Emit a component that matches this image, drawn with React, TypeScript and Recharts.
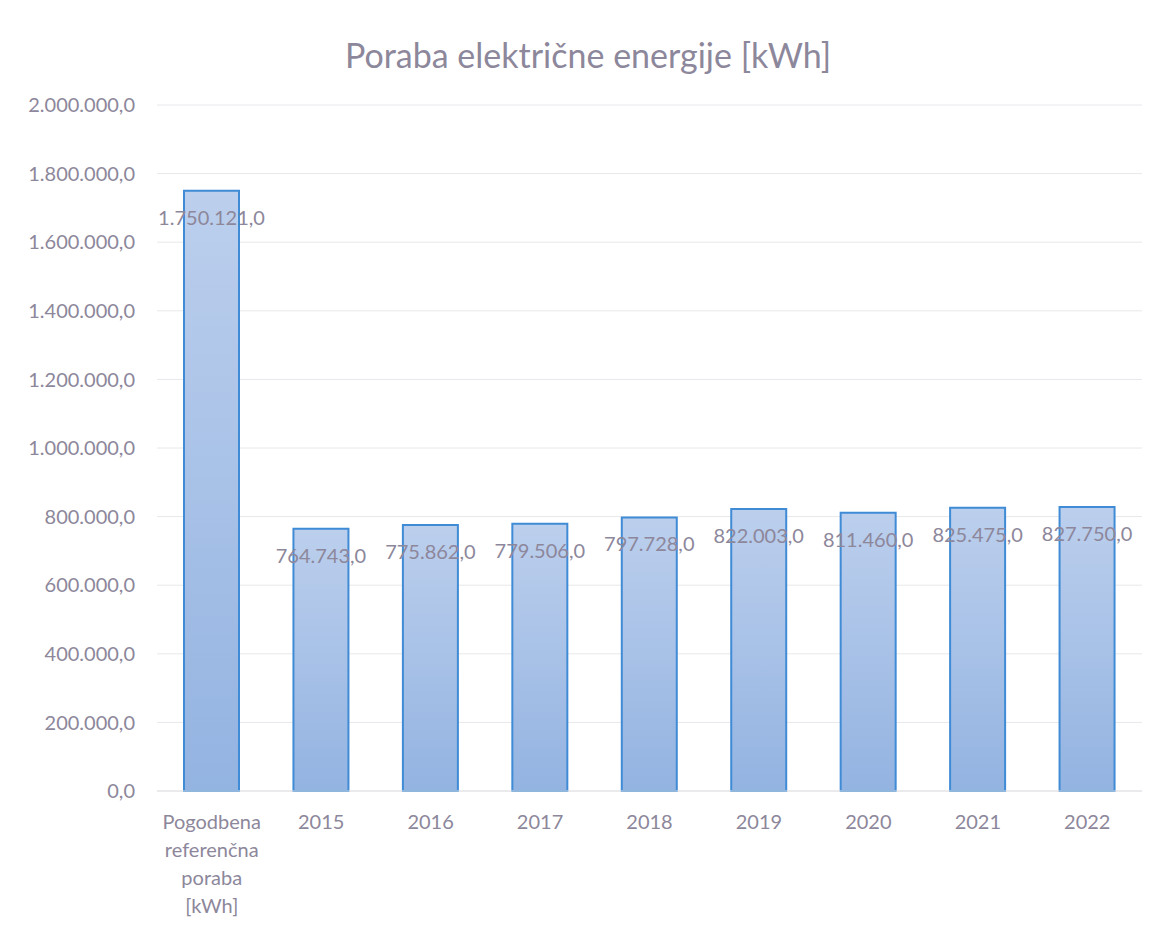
import { Bar, BarChart, CartesianGrid, LabelList, XAxis, YAxis } from "recharts"

const categories = ["Pogodbena referenčna poraba [kWh]", "2015", "2016", "2017", "2018", "2019", "2020", "2021", "2022"]
const consumption = [1750121, 764743, 775862, 779506, 797728, 822003, 811460, 825475, 827750]
const yTicks = [0, 200000, 400000, 600000, 800000, 1000000, 1200000, 1400000, 1600000, 1800000, 2000000]

const data = categories.map((name, i) => ({ name, value: consumption[i] }))

const textColor = "#8d879b"
const font = "Lato, 'Open Sans', sans-serif"

// slovenian style: 1.750.121,0
function fmt(v: number) {
  const [int, dec] = v.toFixed(1).split(".")
  return int.replace(/\B(?=(\d{3})+(?!\d))/g, ".") + "," + dec
}

function CategoryTick(props: any) {
  const { x, y, payload } = props
  const words = String(payload.value).split(" ")
  return (
    <text x={x} y={y} textAnchor="middle" fill={textColor} fontSize={20} fontFamily={font}>
      {words.map((w, i) => (
        <tspan key={i} x={x} dy={i === 0 ? 30 : 28}>
          {w}
        </tspan>
      ))}
    </text>
  )
}

function ValueLabel(props: any) {
  const { x, y, width, value } = props
  return (
    <text x={x + width / 2} y={y + 34} textAnchor="middle" fill={textColor} fontSize={20} fontFamily={font}>
      {fmt(value)}
    </text>
  )
}

export default function App() {
  return (
    <div style={{ position: "relative", width: 1139, height: 918, background: "#fff" }}>
      <div
        style={{
          position: "absolute",
          top: 26,
          left: 0,
          width: 1160,
          textAlign: "center",
          fontFamily: font,
          fontSize: 34,
          color: textColor,
        }}
      >
        Poraba električne energije [kWh]
      </div>
      <BarChart width={1139} height={918} data={data} margin={{ top: 97, right: 5, bottom: 15, left: 0 }} barSize={55}>
        <defs>
          <linearGradient id="barFill" x1="0" y1="0" x2="0" y2="1">
            <stop offset="0%" stopColor="#bccfed" />
            <stop offset="100%" stopColor="#93b3e1" />
          </linearGradient>
        </defs>
        <CartesianGrid vertical={false} stroke="#e8e8ec" />
        <XAxis
          dataKey="name"
          interval={0}
          height={120}
          tick={<CategoryTick />}
          tickLine={false}
          axisLine={{ stroke: "#e2e2e6" }}
        />
        <YAxis
          width={149}
          domain={[0, 2000000]}
          ticks={yTicks}
          tickFormatter={fmt}
          tickLine={false}
          axisLine={false}
          tickSize={0}
          tickMargin={22}
          tick={{ fill: textColor, fontSize: 20, fontFamily: font }}
        />
        <Bar dataKey="value" fill="url(#barFill)" stroke="#3f8bd5" strokeWidth={2} isAnimationActive={false}>
          <LabelList dataKey="value" content={<ValueLabel />} />
        </Bar>
      </BarChart>
    </div>
  )
}
